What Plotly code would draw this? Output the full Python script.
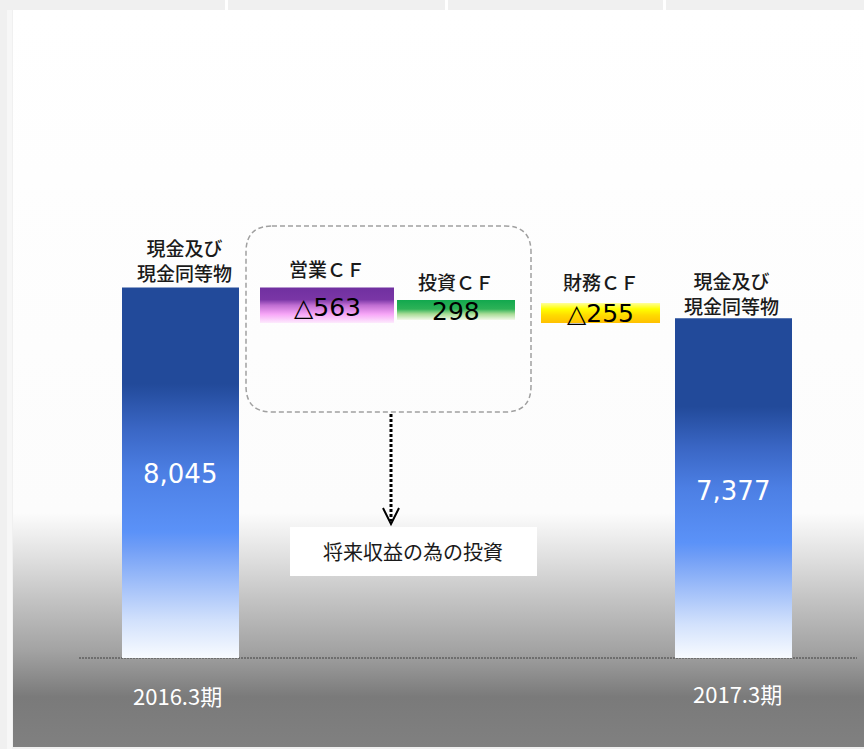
import base64
import plotly.graph_objects as go

# --- data (億円) ---
periods = ["2016.3期", "2017.3期"]
cash_balance = [8045, 7377]
cash_label = "現金及び<br>現金同等物"

flow_names = ["営業ＣＦ", "投資ＣＦ", "財務ＣＦ"]
flow_text = ["△563", "298", "△255"]
# extents of the floating bars as drawn
flow_hi = [8045, 7775, 7710]
flow_lo = [7275, 7340, 7275]

note_text = "将来収益の為の投資"

# --- layout helpers (pixel space of the 864x749 page) ---
W, H = 864, 749
BASE_PX = 658
PX_PER_UNIT = 0.046047
JP = "Noto Sans CJK JP"
NUM = "DejaVu Sans, Noto Sans CJK JP"


def py(p):
    return 1 - p / H


end_x = [(122, 239), (675, 792)]
flow_x = [(260, 394), (397, 515), (541, 660)]

blue_scale = [[0, "#f8fbff"], [0.1, "#d2e1fc"], [0.3, "#6f9df6"], [0.34, "#5b92f8"],
              [0.5, "#4c7fe4"], [0.62, "#3a66c4"], [0.74, "#224a9a"], [1, "#224a9a"]]
flow_scales = [
    [[0, "#fdebfd"], [0.25, "#f7a6f7"], [0.5, "#c06ed2"], [0.66, "#7a36a6"], [1, "#7030a0"]],
    [[0, "#f2f9ea"], [0.3, "#a8dc96"], [0.55, "#2db257"], [1, "#12a84e"]],
    [[0, "#ffc000"], [0.4, "#ffdc00"], [0.7, "#ffff00"], [1, "#ffff9a"]],
]

fig = go.Figure()


def add_bar(x0, x1, lo, hi, scale):
    fig.add_trace(go.Scatter(
        x=[x0, x1, x1, x0, x0], y=[lo, lo, hi, hi, lo],
        mode="lines", line=dict(width=0), fill="toself",
        fillgradient=dict(type="vertical", colorscale=scale),
        hoverinfo="skip", showlegend=False,
    ))


for (x0, x1), v in zip(end_x, cash_balance):
    add_bar(x0, x1, 0, v, blue_scale)
for (x0, x1), lo, hi, sc in zip(flow_x, flow_lo, flow_hi, flow_scales):
    add_bar(x0, x1, lo, hi, sc)

# --- background as an inline svg ---
stops = [(10, "#ffffff"), (513, "#fcfcfc"), (560, "#dedede"), (600, "#c3c3c3"),
         (650, "#a3a3a3"), (697, "#7a7a7a"), (747, "#808080")]
stop_xml = "".join(f"<stop offset='{(p - 10) / 737:.4f}' stop-color='{c}'/>" for p, c in stops)
svg = (
    f"<svg xmlns='http://www.w3.org/2000/svg' width='{W}' height='{H}' viewBox='0 0 {W} {H}' preserveAspectRatio='none'>"
    f"<defs><linearGradient id='g' x1='0' y1='0' x2='0' y2='1'>{stop_xml}</linearGradient></defs>"
    f"<rect width='{W}' height='{H}' fill='#f0f0f0'/>"
    "<rect x='13' y='10' width='851' height='737' fill='url(#g)'/>"
    "<rect x='7' y='10' width='5' height='739' fill='#f7f7f7'/>"
    "<rect x='225' y='0' width='3' height='10' fill='#ffffff'/>"
    "<rect x='445' y='0' width='3' height='10' fill='#ffffff'/>"
    "<rect x='663' y='0' width='3' height='10' fill='#ffffff'/>"
    "</svg>"
)
bg_src = "data:image/svg+xml;base64," + base64.b64encode(svg.encode()).decode()

shapes = []
# baseline
shapes.append(dict(type="line", xref="x", yref="y", x0=79, x1=857, y0=0, y1=0,
                   line=dict(color="#404040", width=1, dash="2px,1px"), layer="below"))
# dashed rounded box around operating + investing CF
x0, x1, y0, y1, r = 246, 531, 226, 412, 26
path = (f"M {x0 + r},{py(y0)} L {x1 - r},{py(y0)} Q {x1},{py(y0)} {x1},{py(y0 + r)} "
        f"L {x1},{py(y1 - r)} Q {x1},{py(y1)} {x1 - r},{py(y1)} "
        f"L {x0 + r},{py(y1)} Q {x0},{py(y1)} {x0},{py(y1 - r)} "
        f"L {x0},{py(y0 + r)} Q {x0},{py(y0)} {x0 + r},{py(y0)} Z")
shapes.append(dict(type="path", xref="x", yref="paper", path=path,
                   line=dict(color="#a0a0a0", width=1.5, dash="5px,3px")))
# dotted arrow
shapes.append(dict(type="line", xref="x", yref="paper", x0=391, x1=391, y0=py(414), y1=py(521),
                   line=dict(color="#000000", width=3, dash="3px,2px")))
shapes.append(dict(type="path", xref="x", yref="paper",
                   path=f"M 383,{py(508)} L 391,{py(524)} L 399,{py(508)}",
                   line=dict(color="#000000", width=2)))
# note box
shapes.append(dict(type="rect", xref="x", yref="paper", x0=290, x1=537, y0=py(527), y1=py(576),
                   fillcolor="#ffffff", line=dict(width=0)))

ann = []


def label(x, p, text, size, color="#1a1a1a", family=JP, weight=400):
    ann.append(dict(x=x, y=py(p), xref="x", yref="paper", text=text, showarrow=False,
                    xanchor="center", yanchor="middle",
                    font=dict(family=family, size=size, color=color, weight=weight)))


label(184, 260, cash_label, 19, weight=500)
label(731, 293, cash_label, 19, weight=500)
label(180, 474, f"{cash_balance[0]:,}", 26, "#ffffff", NUM)
label(733, 491, f"{cash_balance[1]:,}", 26, "#ffffff", NUM)
for (fx0, fx1), name, txt, pn, pv in zip(flow_x, flow_names, flow_text, [268, 281, 281], [307, 311, 313]):
    cx = (fx0 + fx1) / 2
    label(cx, pn, name, 19, weight=500)
    label(cx, pv, txt, 25, "#000000", NUM)
label(413, 551, note_text, 20)
label(177, 695, periods[0], 22, "#ffffff")
label(737, 693, periods[1], 22, "#ffffff")

fig.update_layout(
    width=W, height=H,
    margin=dict(l=0, r=0, t=0, b=0),
    paper_bgcolor="#ffffff", plot_bgcolor="rgba(0,0,0,0)",
    showlegend=False,
    xaxis=dict(range=[0, W], visible=False, fixedrange=True),
    yaxis=dict(range=[-(H - BASE_PX) / PX_PER_UNIT, BASE_PX / PX_PER_UNIT],
               visible=False, fixedrange=True),
    images=[dict(source=bg_src, xref="paper", yref="paper", x=0, y=1, sizex=1, sizey=1,
                 xanchor="left", yanchor="top", sizing="stretch", layer="below")],
    shapes=shapes,
    annotations=ann,
)

fig.write_html("out.html", config=dict(displayModeBar=False),
               post_script="document.body.style.margin='0';")
